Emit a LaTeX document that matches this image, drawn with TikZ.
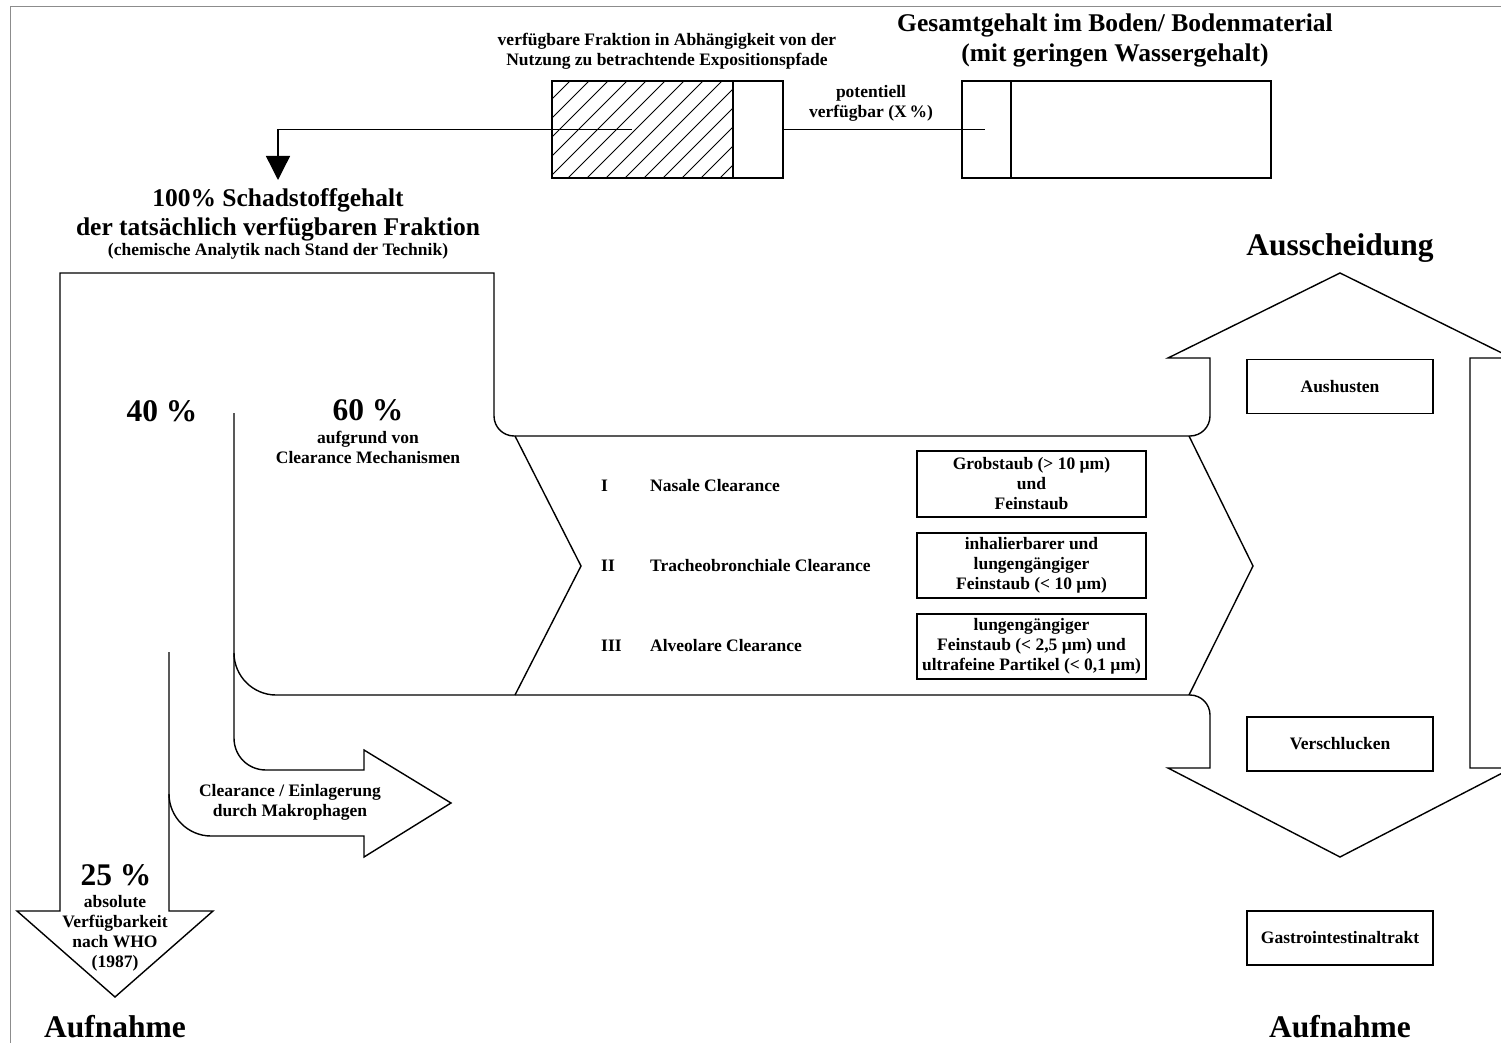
\documentclass[tikz,border=0pt]{standalone}
\usepackage{fontspec}
\setmainfont{Liberation Serif}
\usetikzlibrary{arrows.meta}
\tikzset{
  outline/.style={line width=1.4pt, line join=miter},
  smalltxt/.style={font=\bfseries\fontsize{17.5}{20}\selectfont, align=center, inner sep=0pt},
  midtxt/.style={font=\bfseries\fontsize{25.5}{29}\selectfont, align=center, inner sep=0pt},
  bigtxt/.style={font=\bfseries\fontsize{31.5}{34}\selectfont, align=center, inner sep=0pt},
  infobox/.style={smalltxt, draw, line width=1.3pt, minimum width=229pt, minimum height=65pt},
  stagebox/.style={smalltxt, draw, line width=1.3pt, minimum width=186pt, minimum height=54pt},
  barbox/.style={draw, line width=1.4pt, minimum height=97pt, inner sep=0pt},
}
\begin{document}
\begin{tikzpicture}[x=1pt,y=-1pt]
\useasboundingbox (0,0) rectangle (1501,1043);
\path[clip] (0,0) rectangle (1501,1043);

% page frame
\draw[black!45, line width=1pt] (10,1043) -- (10,7) -- (1501,7);

% available fraction bar with 45 degree hatching
\node[barbox, minimum width=231pt] (avail) at (667.5,129.5) {};
\begin{scope}
  \clip (552,81) rectangle (733,178);
  \foreach \x in {454,473,...,740} \draw[line width=1pt] (\x,178) -- ++(97,-97);
\end{scope}
\draw[outline] (733,81) -- (733,178);

% total content bar
\node[barbox, minimum width=309pt] (total) at (1116.5,129.5) {};
\draw[outline] (1011,81) -- (1011,178);
\coordinate (potend) at (985,129.5);
\draw[outline] (avail.east) -- (potend);

% arrow to the 100 % label
\coordinate (hatchin) at (632,129.5);
\coordinate (tip) at (278,180);
\draw[outline, -{Triangle[width=24pt,length=24pt]}] (hatchin) -| (tip);

% top texts
\node[smalltxt] (availtxt) at (667,51.5) {verfügbare Fraktion in Abhängigkeit von der\\Nutzung zu betrachtende Expositionspfade};
\node[midtxt, font=\bfseries\fontsize{25.5}{30}\selectfont] (totaltxt) at (1115,40) {Gesamtgehalt im Boden/ Bodenmaterial\\(mit geringen Wassergehalt)};
\node[smalltxt] (pottxt) at (871,103) {potentiell\\verfügbar (X\,\%)};
\node[midtxt] (hundred) at (278,215) {100\% Schadstoffgehalt\\der tatsächlich verfügbaren Fraktion};
\node[smalltxt] (chem) at (278,251) {(chemische Analytik nach Stand der Technik)};

% main flow outline: down arrow, splitting band and excretion arrow
\draw[outline] (169,652) -- (169,911) -- (213,911) -- (115,997) -- (17,911) -- (60,911)
  -- (60,273) -- (494,273) -- (494,416) .. controls (494,427) and (503,436) .. (514,436)
  -- (1190,436) .. controls (1201,436) and (1210,427) .. (1210,416)
  -- (1210,358) -- (1168,358) -- (1340,273) -- (1512,358) -- (1470,358)
  -- (1470,768) -- (1512,768) -- (1340,857) -- (1168,768) -- (1210,768)
  -- (1210,715) .. controls (1210,704) and (1201,695) .. (1190,695)
  -- (276,695) .. controls (253,695) and (234,676) .. (234,653);

% macrophage branch
\draw[outline] (234,413) -- (234,738) .. controls (234,756) and (248,770) .. (266,770)
  -- (364,770) -- (364,750) -- (451,803) -- (364,857) -- (364,836)
  -- (211,836) .. controls (188,836) and (169,817) .. (169,794);

% chevrons inside the clearance band
\draw[outline] (515,436) -- (581,566) -- (515,695);
\draw[outline] (1189,436) -- (1253,566) -- (1189,695);

% percentages
\node[bigtxt] (forty) at (162,411) {40 \%};
\node[bigtxt] (sixty) at (368,410) {60 \%};
\node[smalltxt] (sixtytxt) at (368,447.5) {aufgrund von\\Clearance Mechanismen};
\node[bigtxt] (twentyfive) at (116,875) {25 \%};
\node[smalltxt] (whotxt) at (115,933) {absolute\\Verfügbarkeit\\nach WHO\\(1987)};
\node[smalltxt] (macro) at (290,802.5) {Clearance / Einlagerung\\durch Makrophagen};

% clearance stages
\node[smalltxt, anchor=west] (s1) at (601,486) {I};
\node[smalltxt, anchor=west] (s1t) at (650,486) {Nasale Clearance};
\node[smalltxt, anchor=west] (s2) at (601,566) {II};
\node[smalltxt, anchor=west] (s2t) at (650,566) {Tracheobronchiale Clearance};
\node[smalltxt, anchor=west] (s3) at (601,646) {III};
\node[smalltxt, anchor=west] (s3t) at (650,646) {Alveolare Clearance};

\node[infobox, minimum height=66pt] (b1) at (1031.5,484) {Grobstaub (> 10 µm)\\und\\Feinstaub};
\node[infobox] (b2) at (1031.5,565.5) {inhalierbarer und\\lungengängiger\\Feinstaub (< 10 µm)};
\node[infobox] (b3) at (1031.5,646.5) {lungengängiger\\Feinstaub (< 2,5 µm) und\\ultrafeine Partikel (< 0,1 µm)};

% excretion side
\node[bigtxt] (aus) at (1340,248) {Ausscheidung};
\node[stagebox] (cough) at (1340,386.5) {Aushusten};
\node[stagebox] (swallow) at (1340,744) {Verschlucken};
\node[stagebox] (gi) at (1340,938) {Gastrointestinaltrakt};

% uptake labels
\node[bigtxt] (upl) at (115,1027) {Aufnahme};
\node[bigtxt] (upr) at (1340,1027) {Aufnahme};
\end{tikzpicture}
\end{document}
